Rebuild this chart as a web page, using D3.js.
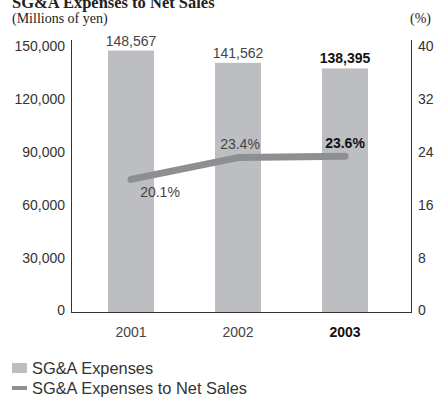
<!DOCTYPE html>
<html>
<head>
<meta charset="utf-8">
<script src="https://cdn.jsdelivr.net/npm/d3@7"></script>
<style>
  html, body { margin: 0; padding: 0; background: #fff; }
  svg { display: block; }
  text { font-family: "Liberation Sans", Arial, Helvetica, sans-serif; fill: #333; }
  .serif { font-family: "Liberation Serif", "Times New Roman", serif; fill: #222; }
</style>
</head>
<body>
<svg id="chart" width="437" height="398"></svg>
<script>
// Fiscal years shown on the category axis
const years = ["2001", "2002", "2003"];
// SG&A expenses, millions of yen
const expenses = [148567, 141562, 138395];
// SG&A expenses as a share of net sales, %
const ratio = [20.1, 23.4, 23.6];
// Axis ticks
const leftTicks = [0, 30000, 60000, 90000, 120000, 150000];
const rightTicks = [0, 8, 16, 24, 32, 40];
// Year that is emphasised in bold
const currentYear = "2003";

const svg = d3.select("#chart");
const plotLeft = 71, plotRight = 411, plotBottom = 312, plotTop = 48, axisTop = 40;

const x = d3.scaleBand().domain(years).range([77.5, 398.5]).paddingInner(0.57).paddingOuter(0.285);
const yL = d3.scaleLinear().domain([0, 150000]).range([plotBottom, plotTop]);
const yR = d3.scaleLinear().domain([0, 40]).range([plotBottom, plotTop]);
const fmt = d3.format(",");
const cx = d => x(d) + x.bandwidth() / 2;

// Title and unit captions
svg.append("text").attr("class", "serif").attr("x", 12).attr("y", 8)
  .style("font-size", "16.5px").style("font-weight", "bold").text("SG&A Expenses to Net Sales");
svg.append("text").attr("class", "serif").attr("x", 12).attr("y", 23)
  .style("font-size", "14px").text("(Millions of yen)");
svg.append("text").attr("class", "serif").attr("x", 410).attr("y", 23)
  .style("font-size", "14px").text("(%)");

// Bars
svg.append("g").selectAll("rect").data(years).join("rect")
  .attr("x", d => x(d))
  .attr("width", x.bandwidth())
  .attr("y", (d, i) => yL(expenses[i]))
  .attr("height", (d, i) => plotBottom - yL(expenses[i]))
  .attr("fill", "#bdbec1");

// Bar value labels
svg.append("g").selectAll("text").data(years).join("text")
  .attr("x", d => cx(d))
  .attr("y", (d, i) => yL(expenses[i]) - 5)
  .attr("text-anchor", "middle")
  .style("font-size", "14px")
  .style("font-weight", d => d === currentYear ? "bold" : "normal")
  .style("fill", d => d === currentYear ? "#111" : "#444")
  .text((d, i) => fmt(expenses[i]));

// Left axis
const axL = d3.axisLeft(yL).tickValues(leftTicks).tickFormat(fmt).tickSize(0).tickPadding(6);
const gL = svg.append("g").attr("transform", `translate(${plotLeft},0)`).call(axL);
gL.select(".domain").remove();
gL.selectAll("text").style("font-size", "14px").style("font-family", "Liberation Sans, Arial, sans-serif")
  .attr("fill", "#444").attr("dy", "0.2em");

// Right axis
const axR = d3.axisRight(yR).tickValues(rightTicks).tickSize(0).tickPadding(7);
const gR = svg.append("g").attr("transform", `translate(${plotRight},0)`).call(axR);
gR.select(".domain").remove();
gR.selectAll("text").style("font-size", "14px").style("font-family", "Liberation Sans, Arial, sans-serif")
  .attr("fill", "#444").attr("dy", "0.2em");

// Axis frame: left, right and baseline
const frame = svg.append("g").attr("stroke", "#333").attr("stroke-width", 1).attr("fill", "none");
frame.append("line").attr("x1", plotLeft + 0.5).attr("x2", plotLeft + 0.5).attr("y1", axisTop).attr("y2", plotBottom);
frame.append("line").attr("x1", plotRight + 0.5).attr("x2", plotRight + 0.5).attr("y1", axisTop).attr("y2", plotBottom);
frame.append("line").attr("x1", plotLeft).attr("x2", plotRight + 1).attr("y1", plotBottom + 0.5).attr("y2", plotBottom + 0.5);

// Year labels
svg.append("g").selectAll("text").data(years).join("text")
  .attr("x", d => cx(d)).attr("y", 337)
  .attr("text-anchor", "middle")
  .style("font-size", "14px")
  .style("font-weight", d => d === currentYear ? "bold" : "normal")
  .style("fill", d => d === currentYear ? "#111" : "#444")
  .text(d => d);

// Ratio line
const line = d3.line().x((d, i) => cx(years[i])).y(d => yR(d));
svg.append("path").datum(ratio)
  .attr("d", line)
  .attr("fill", "none")
  .attr("stroke", "#8e8f91")
  .attr("stroke-width", 7)
  .attr("stroke-linecap", "round")
  .attr("stroke-linejoin", "round");

// Ratio labels
const ratioOffsets = [[29, 18], [2, -9], [0, -8]];
svg.append("g").selectAll("text").data(years).join("text")
  .attr("x", (d, i) => cx(d) + ratioOffsets[i][0])
  .attr("y", (d, i) => yR(ratio[i]) + ratioOffsets[i][1])
  .attr("text-anchor", "middle")
  .style("font-size", "14px")
  .style("font-weight", d => d === currentYear ? "bold" : "normal")
  .style("fill", d => d === currentYear ? "#111" : "#444")
  .text((d, i) => ratio[i].toFixed(1) + "%");

// Legend
const legend = svg.append("g");
legend.append("rect").attr("x", 12).attr("y", 363).attr("width", 15).attr("height", 10).attr("fill", "#bdbec1");
legend.append("text").attr("x", 32).attr("y", 374).style("font-size", "16.4px").attr("fill", "#333").text("SG&A Expenses");
legend.append("rect").attr("x", 12).attr("y", 386).attr("width", 15).attr("height", 4).attr("fill", "#8e8f91");
legend.append("text").attr("x", 32).attr("y", 394).style("font-size", "16.4px").attr("fill", "#333").text("SG&A Expenses to Net Sales");
</script>
</body>
</html>
